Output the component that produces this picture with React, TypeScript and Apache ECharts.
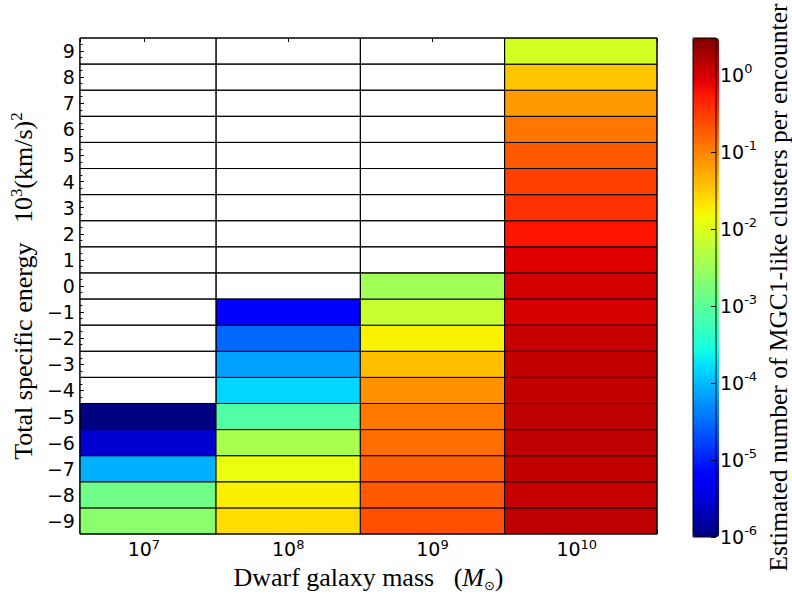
import { useEffect, useRef } from 'react';
import * as echarts from 'echarts';

// Dwarf galaxy mass bins, edges in solar masses (log-centred on each decade)
const massBinEdges = [10 ** 6.5, 10 ** 7.5, 10 ** 8.5, 10 ** 9.5, 10 ** 11];
const massAxisMin = 3.6e6;
const massAxisMax = 3.6e10;
const massTickExponents = [7, 8, 9, 10];

// Total specific energy rows, in 10^3 (km/s)^2
const energyLevels = [-9, -8, -7, -6, -5, -4, -3, -2, -1, 0, 1, 2, 3, 4, 5, 6, 7, 8, 9];

// Estimated number of MGC1-like clusters per encounter, listed from E = -9 upward.
// null marks energy bins with no encounters.
const clustersM7 = [2.3e-3, 1.4e-3, 8.5e-5, 2.8e-6, 1.0e-6,
  null, null, null, null, null, null, null, null, null, null, null, null, null, null];
const clustersM8 = [2.4e-2, 1.8e-2, 1.26e-2, 4.0e-3, 8.3e-4, 1.5e-4, 6.7e-5, 2.9e-5, 6.0e-6,
  null, null, null, null, null, null, null, null, null, null];
const clustersM9 = [0.22, 0.19, 0.17, 0.14, 0.117, 0.08, 3.9e-2, 1.7e-2, 6.9e-3, 3.4e-3,
  null, null, null, null, null, null, null, null, null];
const clustersM10 = [1.33, 1.2, 1.3, 1.35, 1.35, 1.3, 1.28, 1.2, 0.97, 1.02,
  0.86, 0.56, 0.37, 0.29, 0.19, 0.12, 0.067, 0.035, 8.6e-3];

const clusterColumns = [clustersM7, clustersM8, clustersM9, clustersM10];

// Colour bar range and its labelled decades
const colorMin = 1e-6;
const colorMax = 3;
const colorbarExponents = [-6, -5, -4, -3, -2, -1, 0];

// matplotlib "jet" colormap, piecewise linear
const jetRed: [number, number][] = [[0, 0], [0.35, 0], [0.66, 1], [0.89, 1], [1, 0.5]];
const jetGreen: [number, number][] = [[0, 0], [0.125, 0], [0.375, 1], [0.64, 1], [0.91, 0], [1, 0]];
const jetBlue: [number, number][] = [[0, 0.5], [0.11, 1], [0.34, 1], [0.65, 0], [1, 0]];

function interp(seg: [number, number][], t: number): number {
  for (let i = 1; i < seg.length; i++) {
    if (t <= seg[i][0]) {
      const [t0, v0] = seg[i - 1];
      const [t1, v1] = seg[i];
      return v0 + ((v1 - v0) * (t - t0)) / (t1 - t0);
    }
  }
  return seg[seg.length - 1][1];
}

function jetColor(t: number): string {
  const c = (s: [number, number][]) => Math.round(interp(s, t) * 255);
  return `rgb(${c(jetRed)},${c(jetGreen)},${c(jetBlue)})`;
}

const JET_STOPS = 128;
const jetPalette = Array.from({ length: JET_STOPS + 1 }, (_, i) => jetColor(i / JET_STOPS));

const SANS = 'DejaVu Sans';
const SERIF = 'Liberation Serif';

const minus = (n: number) => (n < 0 ? '\u2212' + Math.abs(n) : String(n));

const decadeOf = (v: number): number | null => {
  const e = Math.log10(v);
  const r = Math.round(e);
  return Math.abs(e - r) < 1e-6 ? r : null;
};

// one rectangle per (mass bin, energy row), drawn through the axes' own scales
function makeCellRenderer(fillFor: (api: any) => string) {
  return (params: any, api: any) => {
    const x0 = api.value(0);
    const x1 = api.value(1);
    const yi = api.value(2);
    const pA = api.coord([x0, yi]);
    const pB = api.coord([x1, yi]);
    const h = api.size([1, 1])[1];
    const shape = echarts.graphic.clipRectByRect(
      { x: pA[0], y: pA[1] - h / 2, width: pB[0] - pA[0], height: h },
      {
        x: params.coordSys.x,
        y: params.coordSys.y,
        width: params.coordSys.width,
        height: params.coordSys.height,
      }
    );
    if (!shape) return null;
    return {
      type: 'rect',
      shape,
      style: { fill: fillFor(api), stroke: '#000', lineWidth: 1 },
    };
  };
}

export default function App() {
  const ref = useRef<HTMLDivElement>(null);

  useEffect(() => {
    if (!ref.current) return;
    const chart = echarts.init(ref.current, undefined, { renderer: 'svg' });

    const energyCategories = energyLevels.map((e) => minus(e));

    const filled: number[][] = [];
    const empty: number[][] = [];
    clusterColumns.forEach((col, xi) => {
      col.forEach((v, yi) => {
        const lo = massBinEdges[xi];
        const hi = massBinEdges[xi + 1];
        if (v != null) filled.push([lo, hi, yi, Math.log10(v)]);
        else empty.push([lo, hi, yi]);
      });
    });

    const logMin = Math.log10(colorMin);
    const logMax = Math.log10(colorMax);

    const massTickStyle = {
      show: true, inside: true, length: 4, lineStyle: { color: '#000' },
    };

    chart.setOption({
      animation: false,
      backgroundColor: '#fff',
      grid: [
        {
          left: 77, top: 38, width: 580, height: 499,
          show: true, borderColor: '#000', borderWidth: 1,
          backgroundColor: 'transparent', z: 10,
        },
        {
          left: 693, top: 38, width: 26, height: 499,
          show: true, borderColor: '#000', borderWidth: 1,
          backgroundColor: 'transparent', z: 10,
        },
      ],
      xAxis: [
        {
          type: 'log', logBase: 10, gridIndex: 0, position: 'bottom',
          min: massAxisMin, max: massAxisMax,
          axisLine: { show: false, onZero: false },
          axisTick: massTickStyle,
          splitLine: { show: false },
          axisLabel: {
            margin: 4,
            formatter: (v: number) => {
              const e = decadeOf(v);
              if (e == null || !massTickExponents.includes(e)) return '';
              return `{b|10}{s|${e}}`;
            },
            rich: {
              b: { fontFamily: SANS, fontSize: 19, lineHeight: 22, color: '#000' },
              s: { fontFamily: SANS, fontSize: 13, lineHeight: 12, verticalAlign: 'top', color: '#000' },
            },
          },
          name: '{t|Dwarf galaxy mass   (}{i|M}{o|\u2299}{t|)}',
          nameLocation: 'middle',
          nameGap: 28,
          nameTextStyle: {
            rich: {
              t: { fontFamily: SERIF, fontSize: 26, lineHeight: 30, color: '#000' },
              i: { fontFamily: SERIF, fontSize: 26, lineHeight: 30, fontStyle: 'italic', color: '#000' },
              o: { fontFamily: SANS, fontSize: 13, lineHeight: 14, verticalAlign: 'bottom', color: '#000' },
            },
          },
        },
        {
          type: 'log', logBase: 10, gridIndex: 0, position: 'top',
          min: massAxisMin, max: massAxisMax,
          axisLine: { show: false, onZero: false },
          axisTick: massTickStyle,
          axisLabel: { show: false },
          splitLine: { show: false },
        },
        {
          type: 'value', gridIndex: 1, min: 0, max: 1, show: false,
          axisLine: { onZero: false },
        },
      ],
      yAxis: [
        {
          type: 'category', gridIndex: 0, data: energyCategories, position: 'left',
          axisLine: { show: false, onZero: false },
          axisTick: { show: true, inside: true, alignWithLabel: true, length: 4, lineStyle: { color: '#000' } },
          splitLine: { show: false },
          axisLabel: { fontFamily: SANS, fontSize: 19, color: '#000', margin: 5 },
          name: '{t|Total specific energy   10}{s|3}{t|(km/s)}{s|2}',
          nameLocation: 'middle',
          nameRotate: 90,
          nameGap: 37,
          nameTextStyle: {
            rich: {
              t: { fontFamily: SERIF, fontSize: 26, lineHeight: 30, color: '#000' },
              s: { fontFamily: SERIF, fontSize: 17, lineHeight: 15, verticalAlign: 'top', color: '#000' },
            },
          },
        },
        {
          // minor ticks along the left spine, a quarter of a row apart
          type: 'value', gridIndex: 0, position: 'left',
          min: energyLevels[0] - 0.5, max: energyLevels[energyLevels.length - 1] + 0.5, interval: 1,
          axisLine: { show: false, onZero: false },
          axisTick: { show: false, inside: true },
          minorTick: { show: true, splitNumber: 4, length: 2.5, lineStyle: { color: '#000' } },
          axisLabel: { show: false },
          splitLine: { show: false },
        },
        {
          type: 'value', gridIndex: 1, position: 'right',
          min: logMin, max: logMax, interval: 1, z: 10,
          axisLine: { show: false, onZero: false },
          axisTick: { show: true, inside: true, length: 5, lineStyle: { color: '#000' } },
          splitLine: { show: false },
          axisLabel: {
            margin: 4,
            formatter: (v: number) => {
              const e = Math.round(v);
              if (Math.abs(v - e) > 1e-6 || !colorbarExponents.includes(e)) return '';
              return `{b|10}{s|${e}}`;
            },
            rich: {
              b: { fontFamily: SANS, fontSize: 19, lineHeight: 26, color: '#000' },
              s: { fontFamily: SANS, fontSize: 13, lineHeight: 12, verticalAlign: 'top', color: '#000' },
            },
          },
          name: 'Estimated number of MGC1-like clusters per encounter',
          nameLocation: 'middle',
          nameRotate: 90,
          nameGap: 49,
          nameTextStyle: { fontFamily: SERIF, fontSize: 25.5, color: '#000' },
        },
      ],
      visualMap: {
        type: 'continuous',
        min: logMin,
        max: logMax,
        dimension: 3,
        seriesIndex: 0,
        calculable: false,
        realtime: false,
        hoverLink: false,
        left: 693,
        top: 38,
        padding: 0,
        itemWidth: 26,
        itemHeight: 499,
        text: null,
        inRange: { color: jetPalette },
      },
      series: [
        {
          type: 'custom',
          xAxisIndex: 0,
          yAxisIndex: 0,
          data: filled,
          encode: { x: [0, 1], y: 2 },
          renderItem: makeCellRenderer((api) => api.visual('color')),
          silent: true,
          z: 2,
        },
        {
          // bins without encounters: outline only, so the spine ticks stay visible
          type: 'custom',
          xAxisIndex: 0,
          yAxisIndex: 0,
          data: empty,
          encode: { x: [0, 1], y: 2 },
          renderItem: makeCellRenderer(() => 'transparent'),
          silent: true,
          z: 2,
        },
        {
          type: 'scatter',
          xAxisIndex: 2,
          yAxisIndex: 2,
          data: [],
          silent: true,
        },
      ],
    });

    return () => chart.dispose();
  }, []);

  return (
    <div
      ref={ref}
      style={{ position: 'fixed', left: 0, top: 0, width: 792, height: 597, background: '#fff' }}
    />
  );
}
